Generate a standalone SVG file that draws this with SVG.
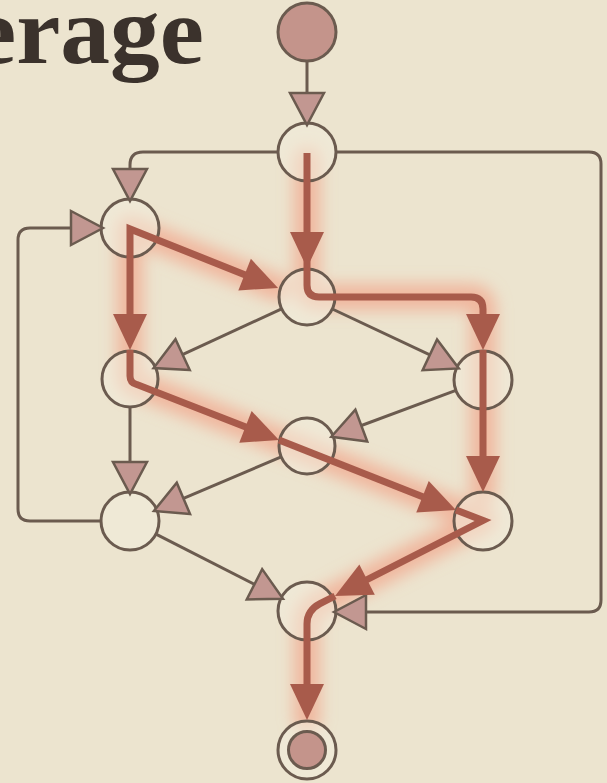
<svg xmlns="http://www.w3.org/2000/svg" width="607" height="783" viewBox="0 0 607 783">
<defs>
<style>
.node{fill:#f3ecdc;fill-opacity:0.55;stroke:#6b5b4f;stroke-width:3}
.filled{fill:#c4948b;fill-opacity:1}
.thin{fill:none;stroke:#6b5b4f;stroke-width:3;marker-end:url(#ah)}
.hl{fill:none;stroke:#a85b4b;stroke-width:7;stroke-linejoin:miter}
.hla{marker-end:url(#hh)}
.glow{fill:none;stroke:#f2a288;stroke-width:26;stroke-linejoin:round;stroke-linecap:round;opacity:0.7}
.title{font-family:"Liberation Serif","DejaVu Serif",serif;font-weight:bold;font-size:96px;fill:#3b322c}
</style>
<marker id="ah" markerUnits="userSpaceOnUse" markerWidth="40" markerHeight="40" refX="31" refY="17" orient="auto" overflow="visible">
<path d="M1,0 L33,17 L1,34 Z" fill="#c29791" stroke="#6b5b4f" stroke-width="2.5" stroke-linejoin="miter"/>
</marker>
<marker id="hh" markerUnits="userSpaceOnUse" markerWidth="40" markerHeight="40" refX="24" refY="17" orient="auto-start-reverse" overflow="visible">
<path d="M0,0 L36,17 L0,34 Z" fill="#a85b4b"/>
</marker>
<filter id="blur" x="-20%" y="-20%" width="140%" height="140%">
<feGaussianBlur stdDeviation="8"/>
</filter>
</defs>
<rect x="0" y="0" width="607" height="783" fill="#ece4cf"/>
<text class="title" x="-28" y="63" textLength="232" lengthAdjust="spacingAndGlyphs">erage</text>
<g id="glow" filter="url(#blur)">
<path class="glow" d="M307,160 L307,285 Q307,297 319,297 L471,297 Q483,297 483,309 L483,492 M131,229 L278,288 M130,229 L130,376 Q130,383 137,384.6 L456,510 L483,520 L320,603.7 Q307,610.5 307,624 L307,720"/>
</g>
<g id="start"><circle class="node filled" cx="307" cy="32" r="29"/></g>
<g id="n1"><circle class="node" cx="307" cy="152" r="29"/></g>
<g id="n2"><circle class="node" cx="130" cy="228" r="29"/></g>
<g id="n3"><circle class="node" cx="307" cy="297" r="28"/></g>
<g id="n4"><circle class="node" cx="130" cy="379" r="28"/></g>
<g id="n5"><circle class="node" cx="483" cy="380" r="29"/></g>
<g id="n6"><circle class="node" cx="307" cy="446" r="28"/></g>
<g id="n7"><circle class="node" cx="130" cy="521" r="29"/></g>
<g id="n8"><circle class="node" cx="483" cy="521" r="29"/></g>
<g id="n9"><circle class="node" cx="307" cy="611" r="29"/></g>
<g id="end"><circle class="node" cx="307" cy="750" r="29"/><circle class="node filled" cx="307" cy="750" r="18.5"/></g>
<g id="connectors">
<path class="thin" d="M307,61 L307,123"/>
<path class="thin" d="M278,152 L143,152 Q130,152 130,165 L130,199"/>
<path class="thin" d="M336,152 L589,152 Q601,152 601,164 L601,600 Q601,612 589,612 L336,612"/>
<path class="thin" d="M281.6,308.8 L155.4,367.2"/>
<path class="thin" d="M332.3,309 L457,367.6"/>
<path class="thin" d="M455.9,390.3 L333.2,436"/>
<path class="thin" d="M130,407 L130,492"/>
<path class="thin" d="M281.2,456.9 L155.8,510.1"/>
<path class="thin" d="M155,533.7 L281.2,597.9"/>
<path class="thin" d="M101,521 L30,521 Q18,521 18,509 L18,240 Q18,228 30,228 L101,228"/>
<path class="hl hla" d="M307,153 L307,256"/>
<path class="hl" d="M307,256 L307,285 Q307,297 319,297 L471,297 Q483,297 483,309 L483,338"/>
<path class="hl hla" d="M483,330 L483,338"/>
<path class="hl hla" d="M483,350 L483,480"/>
<path class="hl hla" d="M456,510 L483,520.5 L345.7,590.5"/>
<path class="hl hla" d="M335,596 L320,603.7 Q307,610.5 307,624 L307,708"/>
<path class="hl hla" d="M130,338 L130,229 L266.9,283.5" marker-start="url(#hh)"/>
<path class="hl hla" d="M130,350 L130,376 Q130,383 137,384.6 L267.8,435.6"/>
<path class="hl hla" d="M279,440 L444.8,505.6"/>
</g>
</svg>
